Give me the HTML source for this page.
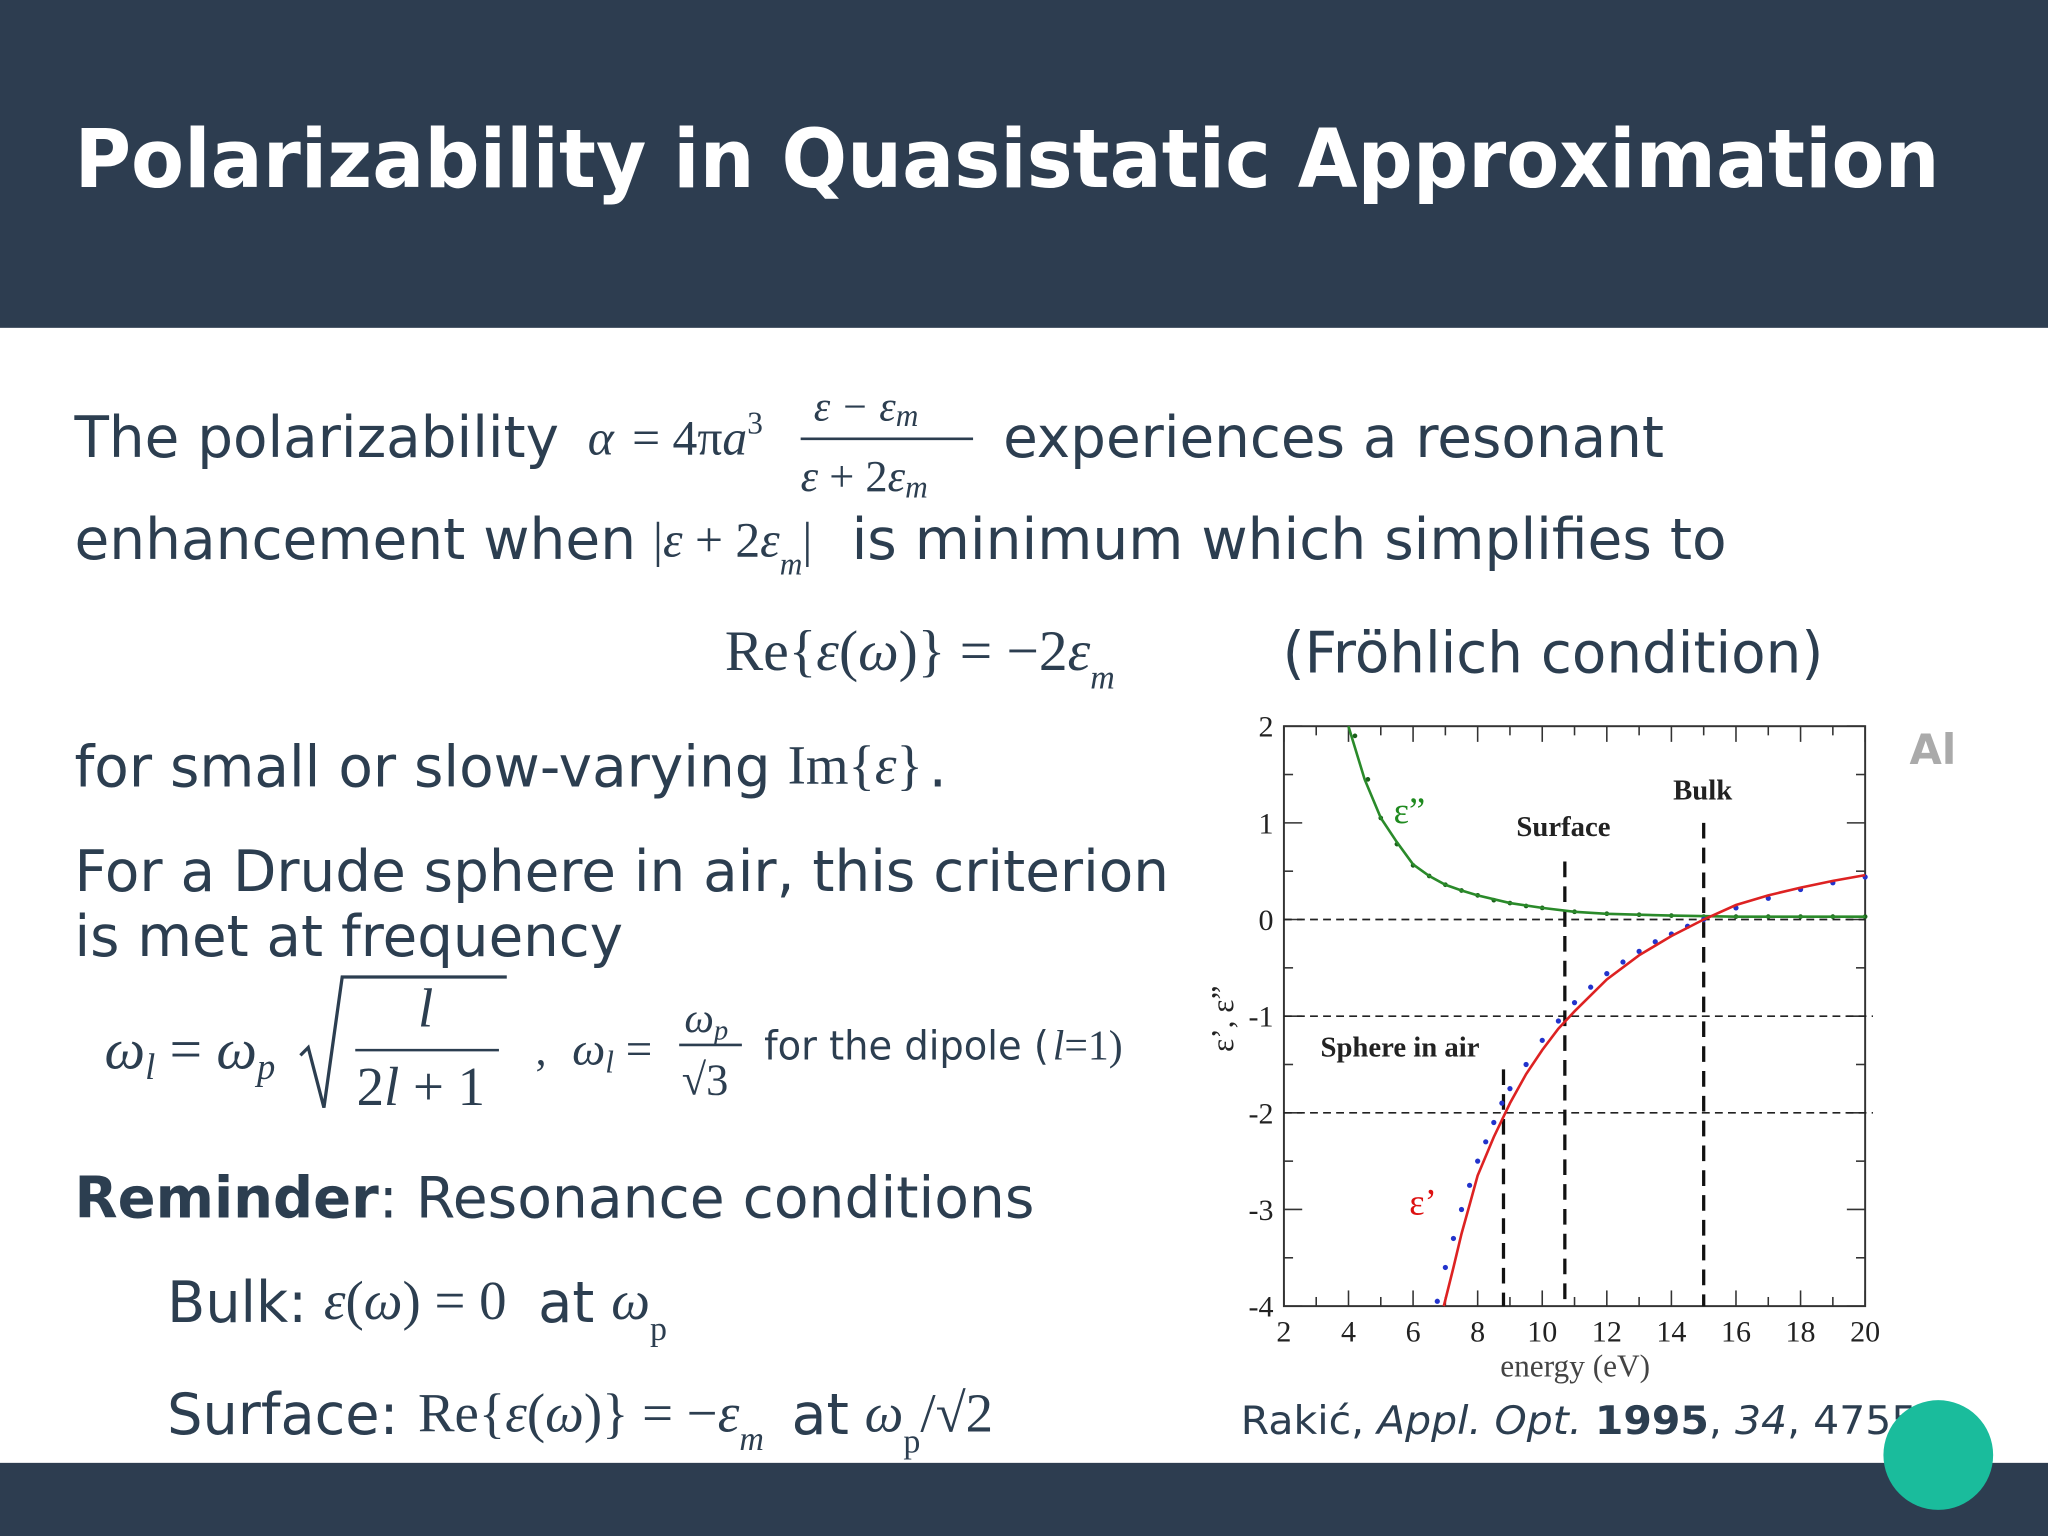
<!DOCTYPE html>
<html><head><meta charset="utf-8"><style>
html,body{margin:0;padding:0;background:#fff;}
svg{display:block;}
.s{font-family:"DejaVu Sans","Liberation Sans",sans-serif;fill:#2c3e50;font-size:44px;}
.m{font-family:"Liberation Serif",serif;fill:#2c3e50;}
.c{font-family:"Liberation Serif",serif;fill:#222;}
</style></head><body>
<svg id="page" width="2048" height="1536" viewBox="0 0 1568 1176" xmlns="http://www.w3.org/2000/svg">
<rect x="0" y="0" width="1568" height="251" fill="#2d3d50"/>
<text x="57" y="143" font-family="DejaVu Sans, sans-serif" font-weight="bold" font-size="62" fill="#fff" textLength="1428" lengthAdjust="spacingAndGlyphs">Polarizability in Quasistatic Approximation</text>
<rect x="0" y="1120" width="1568" height="56" fill="#2d3d50"/>

<g>
<text class="s" x="57" y="350" textLength="371" lengthAdjust="spacingAndGlyphs">The polarizability</text>
<text class="m" x="450" y="348" font-size="38" font-style="italic">α</text>
<text class="m" x="484" y="348" font-size="38">= 4π<tspan font-style="italic">a</tspan><tspan font-size="24" dy="-16">3</tspan></text>
<text class="m" x="623" y="322" font-size="32" font-style="italic">ε − ε<tspan font-size="24" dy="4">m</tspan></text>
<line x1="613" y1="336" x2="745" y2="336" stroke="#2c3e50" stroke-width="2"/>
<text class="m" x="613" y="376" font-size="34" font-style="italic">ε <tspan font-style="normal">+ 2</tspan>ε<tspan font-size="24" dy="5">m</tspan></text>
<text class="s" x="768" y="350" textLength="506" lengthAdjust="spacingAndGlyphs">experiences a resonant</text>
</g>
<g>
<text class="s" x="57" y="428" textLength="430" lengthAdjust="spacingAndGlyphs">enhancement when</text>
<text class="m" x="500" y="426" font-size="38">|<tspan font-style="italic">ε</tspan> + 2<tspan font-style="italic">ε</tspan><tspan font-size="24" dy="14" font-style="italic">m</tspan><tspan dy="-14">|</tspan></text>
<text class="s" x="652" y="428" textLength="670" lengthAdjust="spacingAndGlyphs">is minimum which simplifies to</text>
</g>
<g>
<text class="m" x="555" y="513" font-size="44">Re{<tspan font-style="italic">ε</tspan>(<tspan font-style="italic">ω</tspan>)} = −2<tspan font-style="italic">ε</tspan><tspan font-size="26" dy="14" font-style="italic">m</tspan></text>
<text class="s" x="982" y="515" textLength="414" lengthAdjust="spacingAndGlyphs">(Fröhlich condition)</text>
</g>
<g>
<text class="s" x="57" y="602" textLength="533" lengthAdjust="spacingAndGlyphs">for small or slow-varying</text>
<text class="m" x="603" y="600" font-size="42">Im{<tspan font-style="italic">ε</tspan>}</text>
<text class="s" x="711" y="602">.</text>
</g>
<text class="s" x="57" y="682" textLength="838" lengthAdjust="spacingAndGlyphs">For a Drude sphere in air, this criterion</text>
<text class="s" x="57" y="732" textLength="420" lengthAdjust="spacingAndGlyphs">is met at frequency</text>
<g>
<text class="m" x="80" y="818" font-size="44" font-style="italic">ω<tspan font-size="28" dy="8">l</tspan><tspan dy="-8" font-style="normal"> = </tspan>ω<tspan font-size="28" dy="8">p</tspan></text>
<polyline points="230,808 236,802 248,848 262,748 388,748" fill="none" stroke="#2c3e50" stroke-width="2.5"/>
<text class="m" x="320" y="786" font-size="42" font-style="italic">l</text>
<line x1="272" y1="804" x2="382" y2="804" stroke="#2c3e50" stroke-width="2"/>
<text class="m" x="273" y="846" font-size="42">2<tspan font-style="italic">l</tspan> + 1</text>
<text class="m" x="410" y="815" font-size="34">,</text>
<text class="m" x="438" y="815" font-size="36" font-style="italic">ω<tspan font-size="24" dy="6">l</tspan><tspan dy="-6" font-style="normal"> = </tspan></text>
<text class="m" x="524" y="790" font-size="32" font-style="italic">ω<tspan font-size="22" dy="6">p</tspan></text>
<line x1="520" y1="800" x2="568" y2="800" stroke="#2c3e50" stroke-width="2"/>
<text class="m" x="522" y="838" font-size="34">√3</text>
<text class="s" x="585" y="811" style="font-size:31px" textLength="218" lengthAdjust="spacingAndGlyphs">for the dipole (</text>
<text class="m" x="806" y="811" font-size="32"><tspan font-style="italic">l</tspan>=1)</text>
</g>
<g>
<text class="s" x="57" y="932" font-weight="bold" textLength="233" lengthAdjust="spacingAndGlyphs">Reminder</text>
<text class="s" x="290" y="932" textLength="502" lengthAdjust="spacingAndGlyphs">: Resonance conditions</text>
</g>
<g>
<text class="s" x="128" y="1012" textLength="107" lengthAdjust="spacingAndGlyphs">Bulk:</text>
<text class="m" x="248" y="1010" font-size="42"><tspan font-style="italic">ε</tspan>(<tspan font-style="italic">ω</tspan>) = 0</text>
<text class="s" x="412" y="1012" textLength="43" lengthAdjust="spacingAndGlyphs">at</text>
<text class="m" x="468" y="1010" font-size="42" font-style="italic">ω<tspan font-size="26" dy="16" font-style="normal">p</tspan></text>
</g>
<g>
<text class="s" x="128" y="1098" textLength="177" lengthAdjust="spacingAndGlyphs">Surface:</text>
<text class="m" x="320" y="1096" font-size="42">Re{<tspan font-style="italic">ε</tspan>(<tspan font-style="italic">ω</tspan>)} = −<tspan font-style="italic">ε</tspan><tspan font-size="26" dy="14" font-style="italic">m</tspan></text>
<text class="s" x="606" y="1098" textLength="44" lengthAdjust="spacingAndGlyphs">at</text>
<text class="m" x="662" y="1096" font-size="42"><tspan font-style="italic">ω</tspan><tspan font-size="26" dy="16">p</tspan><tspan dy="-16">/√2</tspan></text>
</g>
<text x="950" y="1098" font-family="DejaVu Sans, sans-serif" font-size="30" fill="#2c3e50" textLength="518" lengthAdjust="spacingAndGlyphs">Rakić, <tspan font-style="italic">Appl. Opt.</tspan> <tspan font-weight="bold">1995</tspan>, <tspan font-style="italic">34</tspan>, 4755</text>
<text x="1462" y="585" font-family="DejaVu Sans, sans-serif" font-size="32" font-weight="bold" fill="#aaa">Al</text>
<circle cx="1484" cy="1114" r="42" fill="#1abc9c"/>
<g id="chart"></g>
</svg>
<script>
const eppE = [4, 4.5, 5, 5.5, 6, 6.5, 7, 7.5, 8, 9, 10, 11, 12, 14, 16, 18, 20];
const eppV = [2, 1.45, 1.05, 0.8, 0.57, 0.45, 0.36, 0.3, 0.25, 0.17, 0.12, 0.08, 0.06, 0.04, 0.03, 0.03, 0.03];
const epE = [6.95, 7.25, 7.5, 7.75, 8, 8.5, 9, 9.5, 10, 10.5, 11, 12, 13, 14, 15, 16, 17, 18, 19, 20];
const epV = [-4, -3.6, -3.25, -2.95, -2.65, -2.25, -1.9, -1.6, -1.35, -1.13, -0.95, -0.62, -0.37, -0.17, 0, 0.15, 0.25, 0.33, 0.4, 0.46];
const drudeE = [6.75, 7, 7.25, 7.5, 7.75, 8, 8.25, 8.5, 8.75, 9, 9.5, 10, 10.5, 11, 11.5, 12, 12.5, 13, 13.5, 14, 14.5, 15, 16, 17, 18, 19, 20];
const drudeV = [-3.95, -3.6, -3.3, -3.0, -2.75, -2.5, -2.3, -2.1, -1.9, -1.75, -1.5, -1.25, -1.05, -0.86, -0.7, -0.56, -0.44, -0.33, -0.23, -0.15, -0.07, 0, 0.12, 0.22, 0.31, 0.38, 0.44];
const drudeImE = [4.2, 4.6, 5, 5.5, 6, 6.5, 7, 7.5, 8, 8.5, 9, 9.5, 10, 11, 12, 13, 14, 15, 16, 17, 18, 19, 20];
const drudeImV = [1.9, 1.45, 1.05, 0.78, 0.56, 0.45, 0.36, 0.3, 0.25, 0.2, 0.17, 0.14, 0.12, 0.08, 0.06, 0.05, 0.04, 0.03, 0.03, 0.03, 0.03, 0.03, 0.03];
const xTicks = [2, 4, 6, 8, 10, 12, 14, 16, 18, 20];
const yTicks = [2, 1, 0, -1, -2, -3, -4];
const markerE = [8.8, 10.7, 15];
const markerTop = [-1.55, 0.6, 1.0];
const refLevels = [0, -1, -2];

const NS = 'http://www.w3.org/2000/svg';
const g = document.getElementById('chart');
const L = 983, R = 1428, T = 556, B = 1000;
const X = e => L + (e - 2) / 18 * (R - L);
const Y = v => T + (2 - v) / 6 * (B - T);
function mk(tag, at, parent) {
  const el = document.createElementNS(NS, tag);
  for (const k in at) el.setAttribute(k, at[k]);
  (parent || g).appendChild(el);
  return el;
}
const frame = mk('rect', {x: L, y: T, width: R - L, height: B - T, fill: 'none', stroke: '#333', 'stroke-width': 1.5});


for (let e = 2; e <= 20; e += 1) {
  const len = (e % 2 === 0) ? 12 : 7;
  mk('line', {x1: X(e), x2: X(e), y1: B, y2: B - len, stroke: '#333', 'stroke-width': 1.2});
  mk('line', {x1: X(e), x2: X(e), y1: T, y2: T + len, stroke: '#333', 'stroke-width': 1.2});
}
for (let v = -4; v <= 2; v += 0.5) {
  const len = (v % 1 === 0) ? 14 : 7;
  mk('line', {x1: L, x2: L + len, y1: Y(v), y2: Y(v), stroke: '#333', 'stroke-width': 1.2});
  mk('line', {x1: R, x2: R - len, y1: Y(v), y2: Y(v), stroke: '#333', 'stroke-width': 1.2});
}
xTicks.forEach(t => {
  const el = mk('text', {x: X(t), y: B + 27, 'text-anchor': 'middle', 'font-size': 23, class: 'c'});
  el.textContent = t;
  
  
});
yTicks.forEach(t => {
  const el = mk('text', {x: L - 8, y: Y(t) + 8, 'text-anchor': 'end', 'font-size': 23, class: 'c'});
  el.textContent = t;
  
  
});
refLevels.forEach(v => {
  const el = mk('line', {x1: L, x2: R + (v === 0 ? 0 : 6), y1: Y(v), y2: Y(v), stroke: '#222', 'stroke-width': 1.3, 'stroke-dasharray': '6 4'});
  
  
});
markerE.forEach((e, i) => {
  const el = mk('line', {x1: X(e), x2: X(e), y1: Y(markerTop[i]), y2: B, stroke: '#111', 'stroke-width': 2.5, 'stroke-dasharray': '12 7'});
  
  
});
function path(xs, ys) {
  return xs.map((e, i) => (i ? 'L' : 'M') + X(e).toFixed(1) + ',' + Y(ys[i]).toFixed(1)).join(' ');
}
const dImL = mk('g', {});
drudeImE.forEach((e, i) => mk('circle', {cx: X(e), cy: Y(drudeImV[i]), r: 1.8, fill: '#1a5f1a'}, dImL));


const gl = mk('path', {d: path(eppE, eppV), fill: 'none', stroke: '#2a8a2a', 'stroke-width': 2});


const dL = mk('g', {});
drudeE.forEach((e, i) => mk('circle', {cx: X(e), cy: Y(drudeV[i]), r: 2, fill: '#2233cc'}, dL));


const rl = mk('path', {d: path(epE, epV), fill: 'none', stroke: '#d22', 'stroke-width': 2});


function label(txt, x, y, at, name) {
  const el = mk('text', Object.assign({x: x, y: y, class: 'c'}, at));
  el.textContent = txt;
  
  
  return el;
}
label('ε”', 1067, 630, {'font-size': 28, style: 'fill:#1f8a1f'}, 'eps-imag-label');
label('ε’', 1079, 930, {'font-size': 28, style: 'fill:#dd1111'}, 'eps-real-label');
label('Surface', 1161, 640, {'font-size': 22, 'font-weight': 'bold'}, 'surface-label');
label('Bulk', 1281, 612, {'font-size': 22, 'font-weight': 'bold'}, 'bulk-label');
label('Sphere in air', 1011, 809, {'font-size': 22, 'font-weight': 'bold'}, 'sphere-in-air-label');
label('energy (eV)', 1206, 1054, {'font-size': 24, 'text-anchor': 'middle', style: 'fill:#444'}, 'x-axis-title');
label('ε’, ε”', 944, 780, {'font-size': 24, 'text-anchor': 'middle', transform: 'rotate(-90 944 780)'}, 'y-axis-title');
</script>
</body></html>
